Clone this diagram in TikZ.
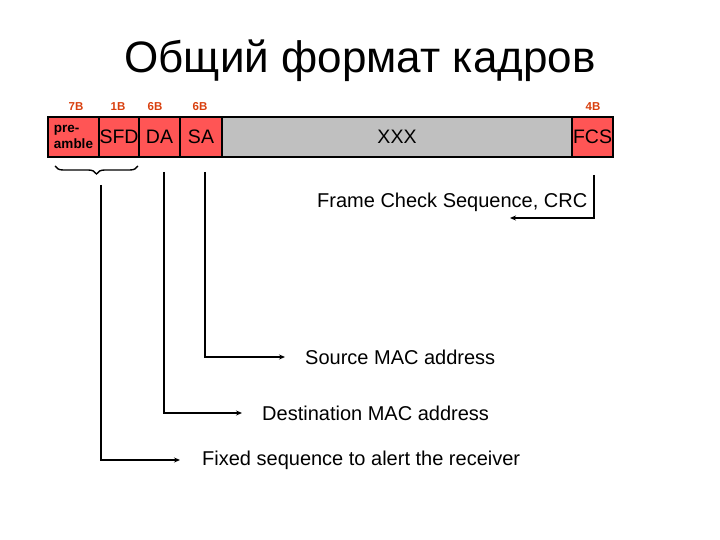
\documentclass[tikz,border=0pt]{standalone}
\usepackage{fontspec}
\setmainfont{Liberation Sans}
\usetikzlibrary{arrows.meta,decorations.pathreplacing}
\definecolor{fieldred}{HTML}{FF5555}
\definecolor{fieldgrey}{HTML}{C0C0C0}
\definecolor{sizecol}{HTML}{D9400F}
\tikzset{
  field/.style={draw=black, line width=1.6pt, fill=fieldred, minimum height=40pt, inner sep=0pt, font=\fontsize{19.5}{21}\selectfont},
  sizelbl/.style={text=sizecol, font=\bfseries\fontsize{11.5}{12}\selectfont, inner sep=0pt},
  desc/.style={anchor=west, inner sep=0pt, font=\fontsize{20}{22}\selectfont},
  conn/.style={line width=1.6pt, -{Stealth[length=6pt,width=5pt]}},
}
\begin{document}
\begin{tikzpicture}[x=1pt,y=-1pt]
\useasboundingbox (0,0) rectangle (720,540);
\fill[white] (0,0) rectangle (720,540);
\node[font=\fontsize{44}{48}\selectfont, inner sep=0pt] (title) at (360,61) {Общий формат кадров};

\node[field, minimum width=51pt, font=\bfseries\fontsize{13.5}{16.5}\selectfont, align=left] (pre) at (73.5,137) {pre-\\amble};
\node[field, minimum width=40pt] (sfd) at (119,137) {SFD};
\node[field, minimum width=41pt] (da) at (159.5,137) {DA};
\node[field, minimum width=42pt] (sa) at (201,137) {SA};
\node[field, fill=fieldgrey, minimum width=350pt] (xxx) at (397,137) {XXX};
\node[field, minimum width=41pt] (fcs) at (592.5,137) {FCS};

\node[sizelbl] (s7) at (76,107) {7B};
\node[sizelbl] (s1) at (118,107) {1B};
\node[sizelbl] (s6a) at (155,107) {6B};
\node[sizelbl] (s6b) at (200,107) {6B};
\node[sizelbl] (s4) at (593,107) {4B};

\draw[line width=1.4pt, decorate, decoration={brace, mirror, amplitude=8pt}] (55,166) -- (138,166);

\node[desc] (frm) at (317,202) {Frame Check Sequence, CRC};
\node[desc] (src) at (305,357) {Source MAC address};
\node[desc] (dst) at (262,413) {Destination MAC address};
\node[desc] (fix) at (202,460) {Fixed sequence to alert the receiver};

\coordinate (fcsTop) at (594,175);
\coordinate (fcsEnd) at (510,218);
\coordinate (saTop) at (205,172);
\coordinate (daTop) at (164,172);
\coordinate (preTop) at (101,185);

\draw[conn] (fcsTop) |- (fcsEnd);
\draw[conn, shorten >=20pt] (saTop) |- (src.west);
\draw[conn, shorten >=20pt] (daTop) |- (dst.west);
\draw[conn, shorten >=22pt] (preTop) |- (fix.west);
\end{tikzpicture}
\end{document}
